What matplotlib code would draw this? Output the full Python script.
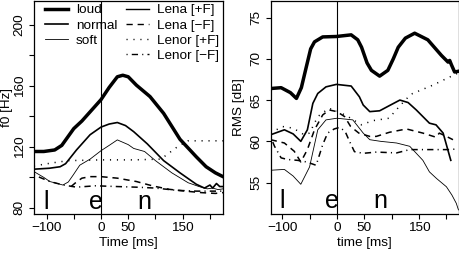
import matplotlib
matplotlib.use("Agg")
import matplotlib.pyplot as plt
from matplotlib.lines import Line2D

plt.rcParams['font.family'] = ['Liberation Sans', 'DejaVu Sans']
plt.rcParams['lines.scale_dashes'] = False

# ---- left panel: f0 [Hz] ----
loud_t = [-123, -105, -85, -72, -60, -50, -35, -20, 0, 15, 30, 40, 50, 65, 90, 115, 145, 175, 193, 210, 224]
loud_hz = [117, 117, 118, 121, 127, 132, 137, 143, 151, 159, 166, 167, 166, 160.5, 153, 142, 125, 113.5, 107, 103, 100.5]

normal_t = [-123, -95, -75, -65, -45, -20, 0, 15, 30, 45, 60, 85, 115, 145, 175, 190, 200, 205, 212, 218, 224]
normal_hz = [105.4, 106, 107, 109, 118, 128, 133, 135, 136, 134, 130, 122, 111, 103, 95.5, 93, 95, 93, 96, 94, 94]

soft_t = [-123, -105, -94, -80, -70, -60, -51, -39, -20, 0, 15, 30, 50, 60, 80, 100, 130, 160, 180, 195, 205, 215, 224]
soft_hz = [103.8, 100, 97.3, 96, 95, 97, 101.6, 108, 112, 117.5, 121, 124.6, 121.5, 119, 117, 111, 103, 96.5, 94, 92.5, 93, 92, 92.5]

lenor_p_t = [-123, -90, -60, 0, 60, 110, 125, 140, 160, 224]
lenor_p_hz = [107.5, 109.5, 111, 111.5, 111.5, 112, 116, 120, 124, 124]

lena_m_t = [-55, -45, -35, -20, 0, 30, 65, 95, 125, 155, 185, 210, 224]
lena_m_hz = [94, 97, 99.5, 100.5, 100.5, 99.5, 97.3, 94.4, 92.2, 91, 90, 89.5, 90]

lenor_m_t = [-123, -94, -69, -45, -10, 30, 65, 100, 140, 175, 224]
lenor_m_hz = [101.6, 97.3, 95, 93.6, 94.5, 94, 93.6, 93, 91.5, 91, 91]

# ---- right panel: RMS [dB] ----
loud_rt = [-121, -102, -85, -74, -65, -56, -48, -41, -26, -1, 26, 38, 45, 55, 63, 78, 93, 103, 112, 125, 142, 166, 191, 203, 206, 209, 215, 223]
loud_db = [66.4, 66.5, 65.9, 65.2, 66.5, 69.0, 71.2, 72.05, 72.65, 72.7, 72.9, 72.3, 71.4, 69.5, 68.6, 67.9, 68.6, 70.0, 71.4, 72.5, 73.1, 72.3, 70.4, 69.6, 69.8, 69.3, 68.4, 68.5]

normal_rt = [-121, -96, -80, -66, -54, -44, -35, -20, -1, 26, 41, 48, 60, 78, 95, 115, 130, 145, 169, 181, 194, 208]
normal_db = [60.8, 61.4, 60.9, 60.0, 61.4, 64.6, 65.8, 66.6, 66.9, 66.7, 65.4, 64.4, 63.6, 63.7, 64.3, 65.0, 64.7, 63.8, 62.2, 62.0, 61.0, 57.7]

soft_rt = [-121, -96, -80, -66, -50, -35, -20, 0, 29, 48, 60, 80, 109, 133, 157, 169, 182, 200, 210, 218, 222]
soft_db = [56.5, 56.6, 55.8, 54.8, 56.9, 61.4, 62.6, 62.8, 62.6, 61.0, 60.2, 60.0, 59.8, 59.4, 57.7, 56.3, 55.5, 54.5, 53.5, 52.5, 51.7]

lenor_p_rt = [-121, -100, -80, -60, -50, -35, -15, 0, 20, 45, 65, 95, 115, 135, 175, 222]
lenor_p_db = [61.0, 61.8, 61.6, 60.8, 61.0, 63.0, 64.0, 63.7, 63.0, 62.0, 62.5, 62.8, 64.3, 65.7, 66.8, 68.3]

lena_m_rt = [-121, -96, -78, -66, -54, -41, -26, -14, 0, 14, 25, 40, 60, 72, 96, 127, 157, 181, 187, 200, 212]
lena_m_db = [60.2, 59.8, 58.8, 57.5, 59.0, 61.4, 63.2, 63.8, 63.6, 63.0, 61.8, 61.0, 60.6, 60.6, 61.1, 61.5, 61.0, 60.5, 61.0, 60.6, 60.2]

lenor_m_rt = [-121, -114, -102, -90, -72, -55, -38, -26, -17, -5, 5, 15, 23, 32, 48, 72, 109, 133, 170, 206, 222]
lenor_m_db = [60.5, 59.4, 58.0, 57.8, 57.7, 57.5, 57.1, 59.6, 61.0, 61.5, 61.7, 61.2, 60.0, 58.75, 58.55, 58.7, 58.6, 59.0, 59.0, 59.0, 59.1]

xticks = [-100, -50, 0, 50, 100, 150, 200]
xticklabels = ['\u2212100', '', '0', '50', '', '150', '']
phones = ['l', 'e', 'n']
phone_t = [-100, -10, 80]

DASHED = (4.5, 3.5)
DOTTED = (0.8, 4.2)
DASHDOT = (0.8, 3.0, 4.5, 3.0)
FS = 9.7

fig = plt.figure(figsize=(4.6, 2.54), dpi=100)
ax1 = fig.add_axes([34 / 460, 40 / 254, 189 / 460, 213 / 254])
ax2 = fig.add_axes([270.7 / 460, 40 / 254, 188.3 / 460, 213 / 254])


def draw(ax, curves):
    (lt, ly), (nt, ny), (st, sy), (pt, py), (mt, my), (dt, dy) = curves
    ax.plot(lt, ly, color='black', lw=2.5, solid_joinstyle='round')
    ax.plot(nt, ny, color='black', lw=1.2)
    ax.plot(st, sy, color='black', lw=0.6)
    ax.plot(pt, py, color='black', lw=1.1, dashes=DOTTED)
    ax.plot(mt, my, color='black', lw=1.1, dashes=DASHED)
    ax.plot(dt, dy, color='black', lw=1.1, dashes=DASHDOT)
    ax.axvline(0, color='black', lw=0.8)
    ax.set_xticks(xticks)
    ax.set_xticklabels(xticklabels)
    ax.tick_params(direction='out', length=3.6, width=0.8, pad=2.5, labelsize=FS)
    for s in ax.spines.values():
        s.set_linewidth(0.9)


draw(ax1, [(loud_t, loud_hz), (normal_t, normal_hz), (soft_t, soft_hz),
           (lenor_p_t, lenor_p_hz), (lena_m_t, lena_m_hz), (lenor_m_t, lenor_m_hz)])
ax1.set_xlim(-123, 224)
ax1.set_ylim(76, 215.7)
ax1.set_yticks([80, 100, 120, 140, 160, 180, 200])
ax1.set_yticklabels(['80', '', '120', '', '160', '', '200'], rotation=90, va='center')
ax1.set_xlabel('Time [ms]', fontsize=FS)
ax1.set_ylabel('f0 [Hz]', fontsize=FS)
ax1.xaxis.set_label_coords(0.5, -0.11)
ax1.yaxis.set_label_coords(-0.111, 0.5)
for p, t in zip(phones, phone_t):
    ax1.text(t, 79.3, p, fontsize=18, ha='center', va='baseline')

draw(ax2, [(loud_rt, loud_db), (normal_rt, normal_db), (soft_rt, soft_db),
           (lenor_p_rt, lenor_p_db), (lena_m_rt, lena_m_db), (lenor_m_rt, lenor_m_db)])
ax2.set_xlim(-121, 223)
ax2.set_ylim(51.2, 77)
ax2.set_yticks([55, 60, 65, 70, 75])
ax2.set_yticklabels(['55', '60', '65', '70', '75'], rotation=90, va='center')
ax2.set_xlabel('time [ms]', fontsize=FS)
ax2.set_ylabel('RMS [dB]', fontsize=FS)
ax2.xaxis.set_label_coords(0.5, -0.11)
ax2.yaxis.set_label_coords(-0.136, 0.5)
for p, t in zip(phones, phone_t):
    ax2.text(t, 51.9, p, fontsize=18, ha='center', va='baseline')

# legend: loudness by width, speaker/condition by dash style
handles = [
    Line2D([], [], color='black', lw=2.5),
    Line2D([], [], color='black', lw=1.2),
    Line2D([], [], color='black', lw=0.6),
    Line2D([], [], color='none'),
    Line2D([], [], color='black', lw=1.0),
    Line2D([], [], color='black', lw=1.0, dashes=DASHED),
    Line2D([], [], color='black', lw=1.0, dashes=DOTTED),
    Line2D([], [], color='black', lw=1.0, dashes=DASHDOT),
]
labels = ['loud', 'normal', 'soft', '', 'Lena [+F]', 'Lena [\u2212F]', 'Lenor [+F]', 'Lenor [\u2212F]']
ax1.legend(handles, labels, ncol=2, frameon=False, fontsize=FS,
           loc='upper left', bbox_to_anchor=(45 / 460, 1 - 4 / 254),
           bbox_transform=fig.transFigure, borderpad=0, borderaxespad=0,
           handlelength=1.7, handletextpad=0.6, columnspacing=0.65,
           labelspacing=0.2)

fig.savefig('out.png', dpi=100)
